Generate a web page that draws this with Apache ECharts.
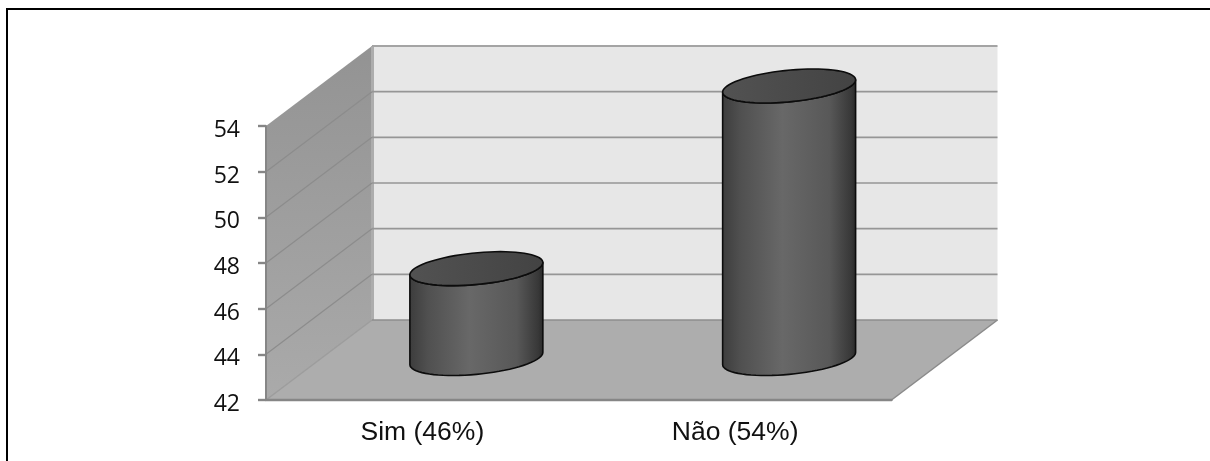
<!DOCTYPE html>
<html>
<head>
<meta charset="utf-8">
<title>Sim / Não</title>
<style>
  html, body { margin: 0; padding: 0; background: #fff; }
  #chart { width: 1210px; height: 461px; }
</style>
<script src="https://cdn.jsdelivr.net/npm/echarts@6/dist/echarts.min.js"></script>
</head>
<body>
<div id="chart"></div>
<script>
// Answers and their counts
const categories = ['Sim (46%)', 'Não (54%)'];
const values = [46, 54];

// Value axis range and gridline levels
const axisMin = 42;
const axisMax = 54;
const axisStep = 2;
const gridLevels = [44, 46, 48, 50, 52, 54];

// Depth of the 3D box in pixels
const DEPTH_X = 106;
const DEPTH_Y = -80;

const AXIS_GREY = '#868686';

function poly(points, style) {
  return { type: 'polygon', shape: { points }, style };
}

// Back wall, side wall and floor of the box
function renderRoom(params, api) {
  const lt = api.coord([0, axisMax]);
  const lb = api.coord([0, axisMin]);
  const cs = params.coordSys;
  const x0 = cs.x, x1 = cs.x + cs.width;
  const top = lt[1], bot = lb[1];
  const dx = DEPTH_X, dy = DEPTH_Y;
  return {
    type: 'group',
    children: [
      poly([[x0 + dx, top + dy], [x1 + dx, top + dy], [x1 + dx, bot + dy], [x0 + dx, bot + dy]],
        { fill: '#e7e7e7' }),
      poly([[x0, bot], [x0 + dx, bot + dy], [x1 + dx, bot + dy], [x1, bot]],
        { fill: '#adadad' }),
      poly([[x0, top], [x0 + dx, top + dy], [x0 + dx, bot + dy], [x0, bot]], {
        fill: {
          type: 'linear', x: 0, y: 0, x2: 0, y2: 1,
          colorStops: [{ offset: 0, color: '#939393' }, { offset: 1, color: '#aaaaaa' }]
        }
      }),
      { type: 'line', shape: { x1: x0 + dx + 0.5, y1: top + dy, x2: x0 + dx + 0.5, y2: bot + dy },
        style: { stroke: '#adadad', lineWidth: 3 } },
      { type: 'line', shape: { x1: x0, y1: bot, x2: x0 + dx, y2: bot + dy },
        style: { stroke: '#9c9c9c', lineWidth: 1.5 } },
      { type: 'line', shape: { x1: x1, y1: bot, x2: x1 + dx, y2: bot + dy },
        style: { stroke: '#8a8a8a', lineWidth: 1.5 } },
      { type: 'line', shape: { x1: x0 + dx, y1: bot + dy, x2: x1 + dx, y2: bot + dy },
        style: { stroke: '#8e8e8e', lineWidth: 1.5 } }
    ]
  };
}

// One gridline: along the side wall, then across the back wall
function renderGridLevel(params, api) {
  const y = api.coord([0, api.value(0)])[1];
  const cs = params.coordSys;
  const x0 = cs.x, x1 = cs.x + cs.width;
  const isTop = api.value(0) === axisMax;
  return {
    type: 'group',
    children: [
      { type: 'line', shape: { x1: x0, y1: y, x2: x0 + DEPTH_X, y2: y + DEPTH_Y },
        style: { stroke: isTop ? 'transparent' : '#8c8c8c', lineWidth: 1.2 } },
      { type: 'line', shape: { x1: x0 + DEPTH_X, y1: y + DEPTH_Y, x2: x1 + DEPTH_X, y2: y + DEPTH_Y },
        style: { stroke: isTop ? '#a4a4a4' : '#969696', lineWidth: isTop ? 2 : 1.6 } }
    ]
  };
}

// Cylinder standing halfway into the depth of the box
function renderCylinder(params, api) {
  const cat = api.value(0);
  const topPt = api.coord([cat, api.value(1)]);
  const basePt = api.coord([cat, axisMin]);
  const ox = DEPTH_X / 2 + 1;
  const oy = DEPTH_Y / 2;
  const cx = topPt[0] + ox;
  const yTop = topPt[1] + oy;
  const yBase = basePt[1] + oy - 1.5;
  // Axes of the ellipse on the floor plane
  const ux = 62, vx = 24, vy = -17;
  const ellipsePoint = (yc, t) => [
    cx + Math.cos(t) * ux + Math.sin(t) * vx,
    yc + Math.sin(t) * vy
  ];
  const tangent = Math.atan2(vx, ux);
  const steps = 72;
  const topRing = [];
  for (let i = 0; i < steps; i++) topRing.push(ellipsePoint(yTop, i / steps * Math.PI * 2));

  // Body outline: right tangent down, front arc of the base, left tangent up, front arc of the top
  const body = [];
  for (let i = 0; i <= steps / 2; i++) {
    body.push(ellipsePoint(yBase, tangent - i / (steps / 2) * Math.PI));
  }
  for (let i = 0; i <= steps / 2; i++) {
    body.push(ellipsePoint(yTop, tangent - Math.PI + i / (steps / 2) * Math.PI));
  }

  return {
    type: 'group',
    children: [
      poly(body, {
        fill: {
          type: 'linear', x: 0, y: 0, x2: 1, y2: 0,
          colorStops: [
            { offset: 0, color: '#3c3c3c' },
            { offset: 0.14, color: '#505050' },
            { offset: 0.45, color: '#686868' },
            { offset: 0.8, color: '#585858' },
            { offset: 0.96, color: '#383838' },
            { offset: 1, color: '#282828' }
          ]
        },
        stroke: '#0c0c0c',
        lineWidth: 1.6,
        lineJoin: 'round'
      }),
      poly(topRing, {
        fill: {
          type: 'linear', x: 0, y: 0, x2: 1, y2: 0,
          colorStops: [
            { offset: 0, color: '#525252' },
            { offset: 1, color: '#434343' }
          ]
        },
        stroke: '#0c0c0c',
        lineWidth: 1.6
      })
    ]
  };
}

const chart = echarts.init(document.getElementById('chart'), null, { renderer: 'canvas' });

chart.setOption({
  animation: false,
  backgroundColor: '#ffffff',
  grid: { left: 266, top: 126, width: 625.5, height: 274, containLabel: false },
  xAxis: {
    type: 'category',
    data: categories,
    z: 5,
    axisLine: { lineStyle: { color: AXIS_GREY, width: 2.4 } },
    axisTick: { alignWithLabel: false, length: 7, lineStyle: { color: AXIS_GREY, width: 2 } },
    axisLabel: { color: '#111', fontFamily: 'Liberation Sans', fontSize: 26.5, margin: 19 }
  },
  yAxis: {
    type: 'value',
    min: axisMin,
    max: axisMax,
    interval: axisStep,
    z: 5,
    splitLine: { show: false },
    axisLine: { show: true, lineStyle: { color: AXIS_GREY, width: 2 } },
    axisTick: { show: true, length: 8, lineStyle: { color: AXIS_GREY, width: 2.4 } },
    axisLabel: {
      color: '#111', fontFamily: 'Open Sans', fontSize: 23, margin: 26,
      verticalAlign: 'top', lineHeight: 9
    }
  },
  graphic: [
    { type: 'line', z: 10, shape: { x1: 6, y1: 9, x2: 1210, y2: 9 }, style: { stroke: '#000', lineWidth: 2 } },
    { type: 'line', z: 10, shape: { x1: 7, y1: 8, x2: 7, y2: 461 }, style: { stroke: '#000', lineWidth: 2 } }
  ],
  series: [
    {
      type: 'custom', name: 'room', z: 1, silent: true,
      coordinateSystem: 'cartesian2d',
      renderItem: renderRoom,
      data: [[axisMin]],
      encode: { y: 0 }
    },
    {
      type: 'custom', name: 'levels', z: 2, silent: true,
      coordinateSystem: 'cartesian2d',
      renderItem: renderGridLevel,
      data: gridLevels.map(v => [v]),
      encode: { y: 0 }
    },
    {
      type: 'custom', name: 'Respostas', z: 6,
      coordinateSystem: 'cartesian2d',
      renderItem: renderCylinder,
      data: values.map((v, i) => [i, v]),
      encode: { x: 0, y: 1 }
    }
  ]
});
</script>
</body>
</html>
